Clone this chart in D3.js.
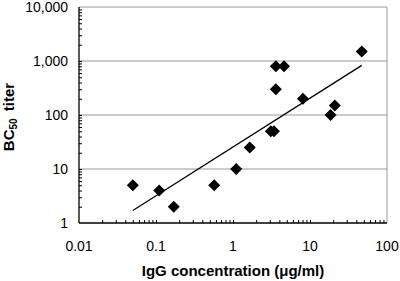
<!doctype html>
<html lang="en">
<head>
  <meta charset="utf-8">
  <title>BC50 titer vs IgG concentration</title>
  <script type="text/javascript" src="https://cdnjs.cloudflare.com/ajax/libs/d3/7.8.5/d3.min.js"></script>
  <style>
    body { margin: 0; background: #fff; }
    text { font-family: "Liberation Sans", Arial, sans-serif; }
  </style>
</head>
<body>
  <svg width="400" height="281" id="svg"></svg>
</body>
<script type="text/javascript">

	// IgG concentration (ug/ml) and BC50 titer
	var igg   = [0.05, 0.11, 0.17, 0.57, 1.1, 1.65, 3.1, 3.4, 3.6, 3.6, 4.6, 8.1, 18.5, 21, 47];
	var titer = [5,    4,    2,    5,    10,  25,   50,  50,  300, 800, 800, 200, 100,  150, 1500];

	// fitted trend line, end points only
	var trendX = [0.05, 47];
	var trendY = [1.7, 830];

	var xTicks = [0.01, 0.1, 1, 10, 100];
	var yTicks = [1, 10, 100, 1000, 10000];

	var plotL = 79, plotR = 387, plotT = 7, plotB = 223;

	var svg = d3.select('#svg');

	var x = d3.scaleLog().domain([0.01, 100]).range([plotL, plotR]);
	var y = d3.scaleLog().domain([1, 10000]).range([plotB, plotT]);

	// minor ticks, 2..9 in every decade
	var minor = function(scale) {
		var d = scale.domain();
		return scale.ticks().filter(function(t) { return t > d[0] && t < d[1]; });
	};

	// horizontal gridlines
	svg.append('g').selectAll('line')
		.data(yTicks.slice(1))
		.enter().append('line')
		.attr('x1', plotL).attr('x2', plotR)
		.attr('y1', function(d) { return y(d); })
		.attr('y2', function(d) { return y(d); })
		.attr('stroke', '#9a9a9a').attr('stroke-width', 1);

	// right border
	svg.append('line')
		.attr('x1', plotR).attr('x2', plotR)
		.attr('y1', plotT).attr('y2', plotB)
		.attr('stroke', '#9a9a9a');

	// y axis
	var yAxis = svg.append('g')
		.attr('transform', 'translate(' + plotL + ',0)')
		.call(d3.axisRight(y).tickValues(minor(y)).tickSize(3).tickFormat(''));
	yAxis.select('.domain').remove();
	svg.append('line')
		.attr('x1', plotL).attr('x2', plotL)
		.attr('y1', plotT).attr('y2', plotB)
		.attr('stroke', '#000').attr('stroke-width', 1.3);

	svg.append('g').selectAll('text')
		.data(yTicks)
		.enter().append('text')
		.attr('x', plotL - 11)
		.attr('y', function(d) { return y(d) + 5; })
		.attr('text-anchor', 'end')
		.attr('font-size', 14)
		.text(function(d) { return d3.format(',')(d); });

	// x axis
	var xAxis = svg.append('g')
		.attr('transform', 'translate(0,' + plotB + ')')
		.call(d3.axisTop(x).tickValues(minor(x)).tickSize(3).tickFormat(''));
	xAxis.select('.domain').remove();
	svg.append('line')
		.attr('x1', plotL).attr('x2', plotR)
		.attr('y1', plotB).attr('y2', plotB)
		.attr('stroke', '#000').attr('stroke-width', 1.3);

	svg.append('g').selectAll('text')
		.data(xTicks)
		.enter().append('text')
		.attr('x', function(d) { return x(d); })
		.attr('y', plotB + 28)
		.attr('text-anchor', 'middle')
		.attr('font-size', 14)
		.text(function(d) { return d; });

	// trend line
	svg.append('line')
		.attr('x1', x(trendX[0])).attr('y1', y(trendY[0]))
		.attr('x2', x(trendX[1])).attr('y2', y(trendY[1]))
		.attr('stroke', '#000').attr('stroke-width', 1.3);

	// points
	svg.append('g').selectAll('path')
		.data(igg)
		.enter().append('path')
		.attr('d', 'M0,-6L6,0L0,6L-6,0Z')
		.attr('transform', function(d, i) { return 'translate(' + x(d) + ',' + y(titer[i]) + ')'; })
		.attr('fill', '#000');

	// axis titles
	svg.append('text')
		.attr('x', (plotL + plotR) / 2)
		.attr('y', 276)
		.attr('text-anchor', 'middle')
		.attr('font-size', 15)
		.attr('font-weight', 'bold')
		.text('IgG concentration (\u03bcg/ml)');

	var yt = svg.append('text')
		.attr('transform', 'translate(14,' + ((plotT + plotB) / 2 + 2) + ') rotate(-90)')
		.attr('text-anchor', 'middle')
		.attr('font-size', 15)
		.attr('font-weight', 'bold');
	yt.append('tspan').text('BC');
	yt.append('tspan').attr('font-size', 10).attr('dy', 3).text('50');
	yt.append('tspan').attr('dy', -3).text('\u2009 titer');

</script>
</html>
